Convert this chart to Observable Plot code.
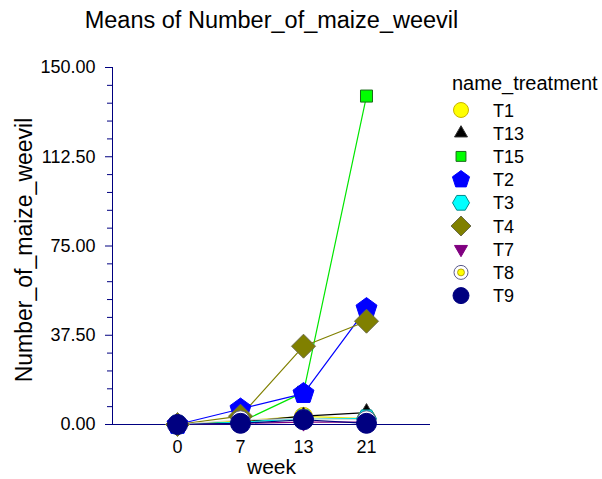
<!DOCTYPE html>
<html>
<head>
<meta charset="utf-8">
<script src="https://cdn.jsdelivr.net/npm/d3@7"></script>
<script src="https://cdn.jsdelivr.net/npm/@observablehq/plot@0.6"></script>
<style>
  html, body { margin: 0; padding: 0; background: #fff; }
  #wrap { position: relative; width: 602px; height: 479px; font-family: "Liberation Sans", Arial, sans-serif; }
  #legend { position: absolute; left: 0; top: 0; pointer-events: none; }
</style>
</head>
<body>
<div id="wrap"></div>
<script>
// ---- data ----
const weeks = ["0", "7", "13", "21"];
const treatments = ["T1", "T13", "T15", "T2", "T3", "T4", "T7", "T8", "T9"];
const T1  = [0, 1.5, 3.4, 2.5];
const T13 = [0, 1.0, 3.5, 5.0];
const T15 = [0, 1.0, 13.5, 138];
const T2  = [0, 6.5, 13, 48.7];
const T3  = [0, 1.0, 2.5, 2.5];
const T4  = [0, 3.5, 32.9, 43.4];
const T7  = [0, 0.5, 1.0, 1.0];
const T8  = [0, 2.0, 2.5, 2.0];
const T9  = [0, 0.5, 2.0, 0.5];
const seriesValues = [T1, T13, T15, T2, T3, T4, T7, T8, T9];
const yMajorTicks = [0, 37.5, 75, 112.5, 150];
const yMinorTicks = [7.5, 15, 22.5, 30, 45, 52.5, 60, 67.5, 82.5, 90, 97.5, 105, 120, 127.5, 135, 142.5];

// ---- styles ----
const symbolKinds = ["circle", "triangle", "square", "pentagon", "hexagon", "diamond", "triangleDown", "circle", "circle"];
const fillColors  = ["#ffff00", "#000000", "#00ff00", "#0000ff", "#00ffff", "#808000", "#800080", "#ffffff", "#000080"];
const edgeColors  = ["#c8b400", "#333333", "#1a6b1a", "#0000ff", "#008b8b", "#6b6b4a", "#800080", "#5a5a8a", "#000080"];
const lineColors  = ["#e6e600", "#000000", "#00e600", "#0000ff", "#00e0e0", "#808000", "#800080", "#d8d8d8", "#000080"];
const plotRadii   = [9, 9, 8.5, 11, 10, 12, 9, 9, 10];
const legendRadii = [7.5, 7.5, 7, 9, 8.5, 10, 7.5, 7, 8];
const navy = "#000080";

// ---- custom symbols ----
function poly(n, rot) {
  return { draw(ctx, size) {
    const R = Math.sqrt(size / Math.PI);
    for (let i = 0; i < n; i++) {
      const a = rot + 2 * Math.PI * i / n;
      const x = R * Math.cos(a), y = R * Math.sin(a);
      if (i) ctx.lineTo(x, y); else ctx.moveTo(x, y);
    }
    ctx.closePath();
  }};
}
const circleSym = { draw(ctx, size) { const r = Math.sqrt(size / Math.PI); ctx.moveTo(r, 0); ctx.arc(0, 0, r, 0, 2 * Math.PI); } };
const symbols = {
  circle: circleSym,
  triangle: poly(3, -Math.PI / 2),
  triangleDown: poly(3, Math.PI / 2),
  square: poly(4, Math.PI / 4),
  diamond: poly(4, 0),
  pentagon: poly(5, -Math.PI / 2),
  hexagon: poly(6, 0)
};

// ---- table ----
const rows = [];
treatments.forEach((t, i) => weeks.forEach((w, j) => rows.push({treatment: t, week: w, value: seriesValues[i][j]})));

const lineMarks = treatments.map((t, i) =>
  Plot.line(rows.filter(d => d.treatment === t), {x: "week", y: "value", stroke: lineColors[i], strokeWidth: 1.2}));
const dotMarks = [];
treatments.forEach((t, i) => {
  const data = rows.filter(d => d.treatment === t);
  dotMarks.push(Plot.dot(data, {x: "week", y: "value", symbol: symbols[symbolKinds[i]], r: plotRadii[i],
    fill: fillColors[i], stroke: edgeColors[i], strokeWidth: 1}));
  if (t === "T8") {
    dotMarks.push(Plot.dot(data, {x: "week", y: "value", symbol: circleSym, r: 4, fill: "#ffff00", stroke: "#a09000", strokeWidth: 0.8}));
  }
});

const chart = Plot.plot({
  width: 602,
  height: 479,
  marginLeft: 112,
  marginRight: 172,
  marginTop: 67,
  marginBottom: 55,
  style: {fontFamily: "'Liberation Sans', Arial, sans-serif", background: "white", color: "black"},
  x: {type: "point", domain: weeks, padding: 1},
  y: {domain: [0, 150]},
  marks: [
    Plot.axisY({ticks: yMinorTicks, tickSize: 5, tickFormat: () => "", stroke: navy, label: null}),
    Plot.axisY({ticks: yMajorTicks, tickSize: 7, tickPadding: 10, tickFormat: d => d.toFixed(2), fontSize: 18, stroke: navy, fill: "black", label: null}),
    Plot.axisX({tickSize: 0, tickPadding: 16, fontSize: 18, fill: "black", label: null}),
    Plot.frame({anchor: "left", stroke: navy}),
    Plot.ruleY([0], {stroke: navy}),
    ...lineMarks,
    ...dotMarks,
    Plot.text(["Means of Number_of_maize_weevil"], {frameAnchor: "top", lineAnchor: "middle", textAnchor: "middle", dy: -47, fontSize: 23.5, fill: "black"}),
    Plot.text(["Number_of_maize_weevil"], {frameAnchor: "left", textAnchor: "middle", lineAnchor: "middle", dx: -88, dy: 4, rotate: -90, fontSize: 23, fill: "black"}),
    Plot.text(["week"], {frameAnchor: "bottom", lineAnchor: "middle", textAnchor: "middle", dy: 43, fontSize: 21, fill: "black"})
  ]
});

const wrap = document.getElementById("wrap");
wrap.appendChild(chart);

// ---- legend ----
const leg = d3.select(wrap).append("svg").attr("id", "legend").attr("width", 602).attr("height", 479)
  .style("font-family", "'Liberation Sans', Arial, sans-serif");
leg.append("text").attr("x", 452).attr("y", 90).attr("font-size", 20).text("name_treatment");
treatments.forEach((t, i) => {
  const cy = 110 + i * 23.2;
  const g = leg.append("g").attr("transform", `translate(461,${cy})`);
  g.append("path").attr("d", d3.symbol().type(symbols[symbolKinds[i]]).size(Math.PI * legendRadii[i] ** 2)())
    .attr("fill", fillColors[i]).attr("stroke", edgeColors[i]).attr("stroke-width", 1);
  if (t === "T8") g.append("path").attr("d", d3.symbol().type(circleSym).size(Math.PI * 12)()).attr("fill", "#ffff00").attr("stroke", "#a09000").attr("stroke-width", 0.8);
  leg.append("text").attr("x", 493).attr("y", cy + 6.5).attr("font-size", 18).text(t);
});
</script>
</body>
</html>
